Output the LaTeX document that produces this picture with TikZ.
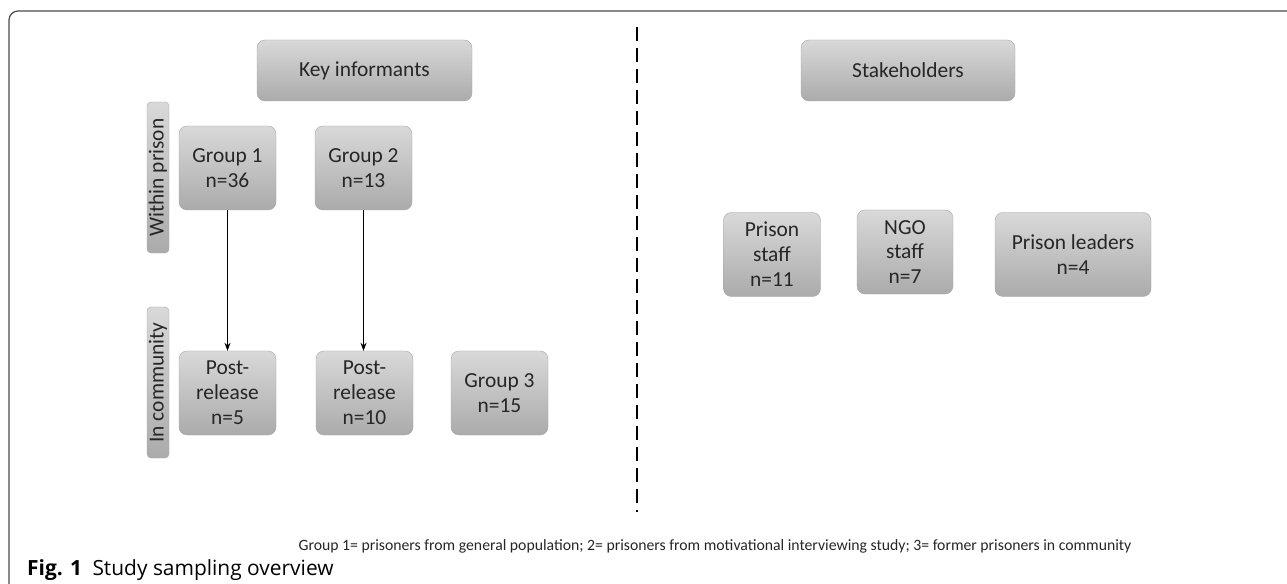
\documentclass[tikz,border=0pt]{standalone}
\usepackage{fontspec}
\setmainfont{Carlito}
\newfontfamily\capfont{Open Sans}
\usetikzlibrary{arrows.meta}

\begin{document}
\begin{tikzpicture}[x=1bp, y=-1bp,
	box/.style={draw=black!35, rounded corners=8bp, top color=black!15, bottom color=black!33,
		text=black!85, align=center, inner sep=0pt, font=\fontsize{21.5}{25}\selectfont},
	sidebox/.style={box, rounded corners=4bp, rotate=90, minimum width=151bp, minimum height=22bp},
	groupbox/.style={box, minimum width=97bp, minimum height=84bp},
	link/.style={-{Stealth[length=8bp,width=6bp]}, line width=0.8bp}]
\useasboundingbox (0,0) rectangle (1287,584);
\draw[black!70, line width=1.2bp, rounded corners=9bp] (9,584) -- (9,11) -- (1287,11);
\draw[line width=2bp, dash pattern=on 14bp off 7bp] (637,27) -- (637,512);

\node[box, minimum width=215bp, minimum height=61bp] (key) at (364.5,70.5) {Key informants};
\node[box, minimum width=214bp, minimum height=61bp] (stake) at (908,70.5) {Stakeholders};

\node[sidebox] (within) at (158,177.5) {Within prison};
\node[sidebox] (community) at (158,382.5) {In community};

\node[groupbox] (g1) at (227.5,168) {Group 1\\n=36};
\node[groupbox] (g2) at (363.5,168) {Group 2\\n=13};
\node[groupbox] (post1) at (227.5,393) {Post-\\release\\n=5};
\node[groupbox] (post2) at (364.5,393) {Post-\\release\\n=10};
\node[groupbox] (g3) at (499.5,393) {Group 3\\n=15};
\draw[link] (g1) -- (post1);
\draw[link] (g2) -- (g2 |- post2.north);

\node[groupbox] (pstaff) at (772,254.5) {Prison\\staff\\n=11};
\node[groupbox, minimum width=96bp] (ngo) at (905,252) {NGO\\staff\\n=7};
\node[groupbox, minimum width=156bp] (leaders) at (1073,254.5) {Prison leaders\\n=4};

\node[font=\fontsize{15.8}{19}\selectfont, text=black!85] (note) at (715,546)
	{Group 1= prisoners from general population; 2= prisoners from motivational interviewing study; 3= former prisoners in community};
\node[anchor=west, font=\capfont\fontsize{21}{24}\selectfont, inner sep=0pt] (cap) at (27,570)
	{\textbf{Fig. 1}\enspace Study sampling overview};
\end{tikzpicture}
\end{document}
